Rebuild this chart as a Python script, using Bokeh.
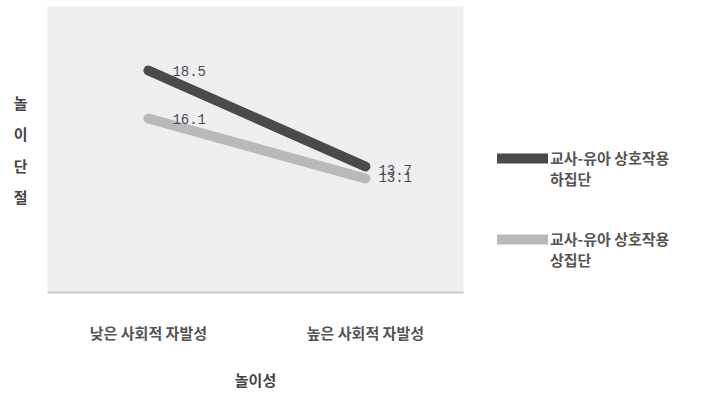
from bokeh.plotting import figure
from bokeh.models import Range1d, FixedTicker, Legend, LegendItem, ColumnDataSource
from bokeh.core.properties import value
from bokeh.embed import file_html
from bokeh.resources import INLINE

# ---- data ----
categories = ["낮은 사회적 자발성", "높은 사회적 자발성"]
x_pos = [0, 1]
low_group = [18.5, 13.7]    # 교사-유아 상호작용 하집단
high_group = [16.1, 13.1]   # 교사-유아 상호작용 상집단
series_names = ["교사-유아 상호작용\n하집단", "교사-유아 상호작용\n상집단"]
x_title = "놀이성"
y_title = "놀이단절"

KR = "Noto Sans CJK KR"
dark = "#4a4a4a"
light = "#b9b9b9"
txt = "#555555"

p = figure(frame_width=416, frame_height=286, output_backend="svg", toolbar_location=None,
           x_range=Range1d(-0.465, 1.452), y_range=Range1d(7.4, 21.7),
           min_border_left=47, min_border_right=253, min_border_top=6, min_border_bottom=102,
           background_fill_color="#efefef", border_fill_color="white")
p.outline_line_color = None
p.grid.visible = False

xa = p.xaxis[0]
xa.ticker = FixedTicker(ticks=x_pos)
xa.major_label_overrides = {x: c for x, c in zip(x_pos, categories)}
xa.major_tick_line_color = None
xa.minor_tick_line_color = None
xa.axis_line_color = "#c9c9c9"
xa.axis_line_width = 2
xa.major_label_standoff = 23
xa.major_label_text_font = KR
xa.major_label_text_font_size = "15px"
xa.major_label_text_color = txt
xa.major_label_text_font_style = "bold"
xa.axis_label = x_title
xa.axis_label_text_font = KR
xa.axis_label_text_font_size = "15px"
xa.axis_label_text_font_style = "bold"
xa.axis_label_text_color = "#444444"
xa.axis_label_standoff = 23

ya = p.yaxis[0]
ya.ticker = FixedTicker(ticks=[])
ya.axis_line_color = None
ya.major_tick_line_color = None
ya.minor_tick_line_color = None
ya.axis_label = "\n".join(list(y_title))
ya.axis_label_text_font = KR
ya.axis_label_text_font_size = "15px"
ya.axis_label_text_font_style = "bold"
ya.axis_label_text_color = "#444444"
ya.axis_label_text_line_height = 1.5
ya.axis_label_standoff = 20
if "axis_label_orientation" in ya.properties():
    ya.axis_label_orientation = "horizontal"

r1 = p.line(x_pos, low_group, line_color=dark, line_width=10, line_cap="round")
r2 = p.line(x_pos, high_group, line_color=light, line_width=10, line_cap="round")

lab_src = ColumnDataSource(dict(
    x=x_pos + x_pos,
    y=low_group + high_group,
    t=[f"{v:.1f}" for v in low_group + high_group],
))
lab_xoff = [24, 13, 24, 13]
lab_yoff = [0, 3, 0, -2]
lab_src.data["xo"] = lab_xoff
lab_src.data["yo"] = lab_yoff
p.text(x="x", y="y", text="t", x_offset="xo", y_offset="yo", source=lab_src,
       text_font=value("Liberation Mono"), text_font_size="14px",
       text_color="#4a4a5a", text_baseline="middle", text_align="left")

# a blank first line keeps the legend line level with the first text line
legend = Legend(items=[LegendItem(label=" \n" + series_names[0], renderers=[r1]),
                       LegendItem(label=" \n" + series_names[1], renderers=[r2])],
                location=(34, 22), orientation="vertical",
                glyph_width=51, glyph_height=20, spacing=18,
                label_standoff=2, padding=0, margin=0,
                border_line_color=None, background_fill_alpha=0,
                label_text_font=KR, label_text_font_size="15px",
                label_text_color=txt, label_text_font_style="bold")
p.add_layout(legend, "right")

open("out.html", "w").write(file_html(p, INLINE))
